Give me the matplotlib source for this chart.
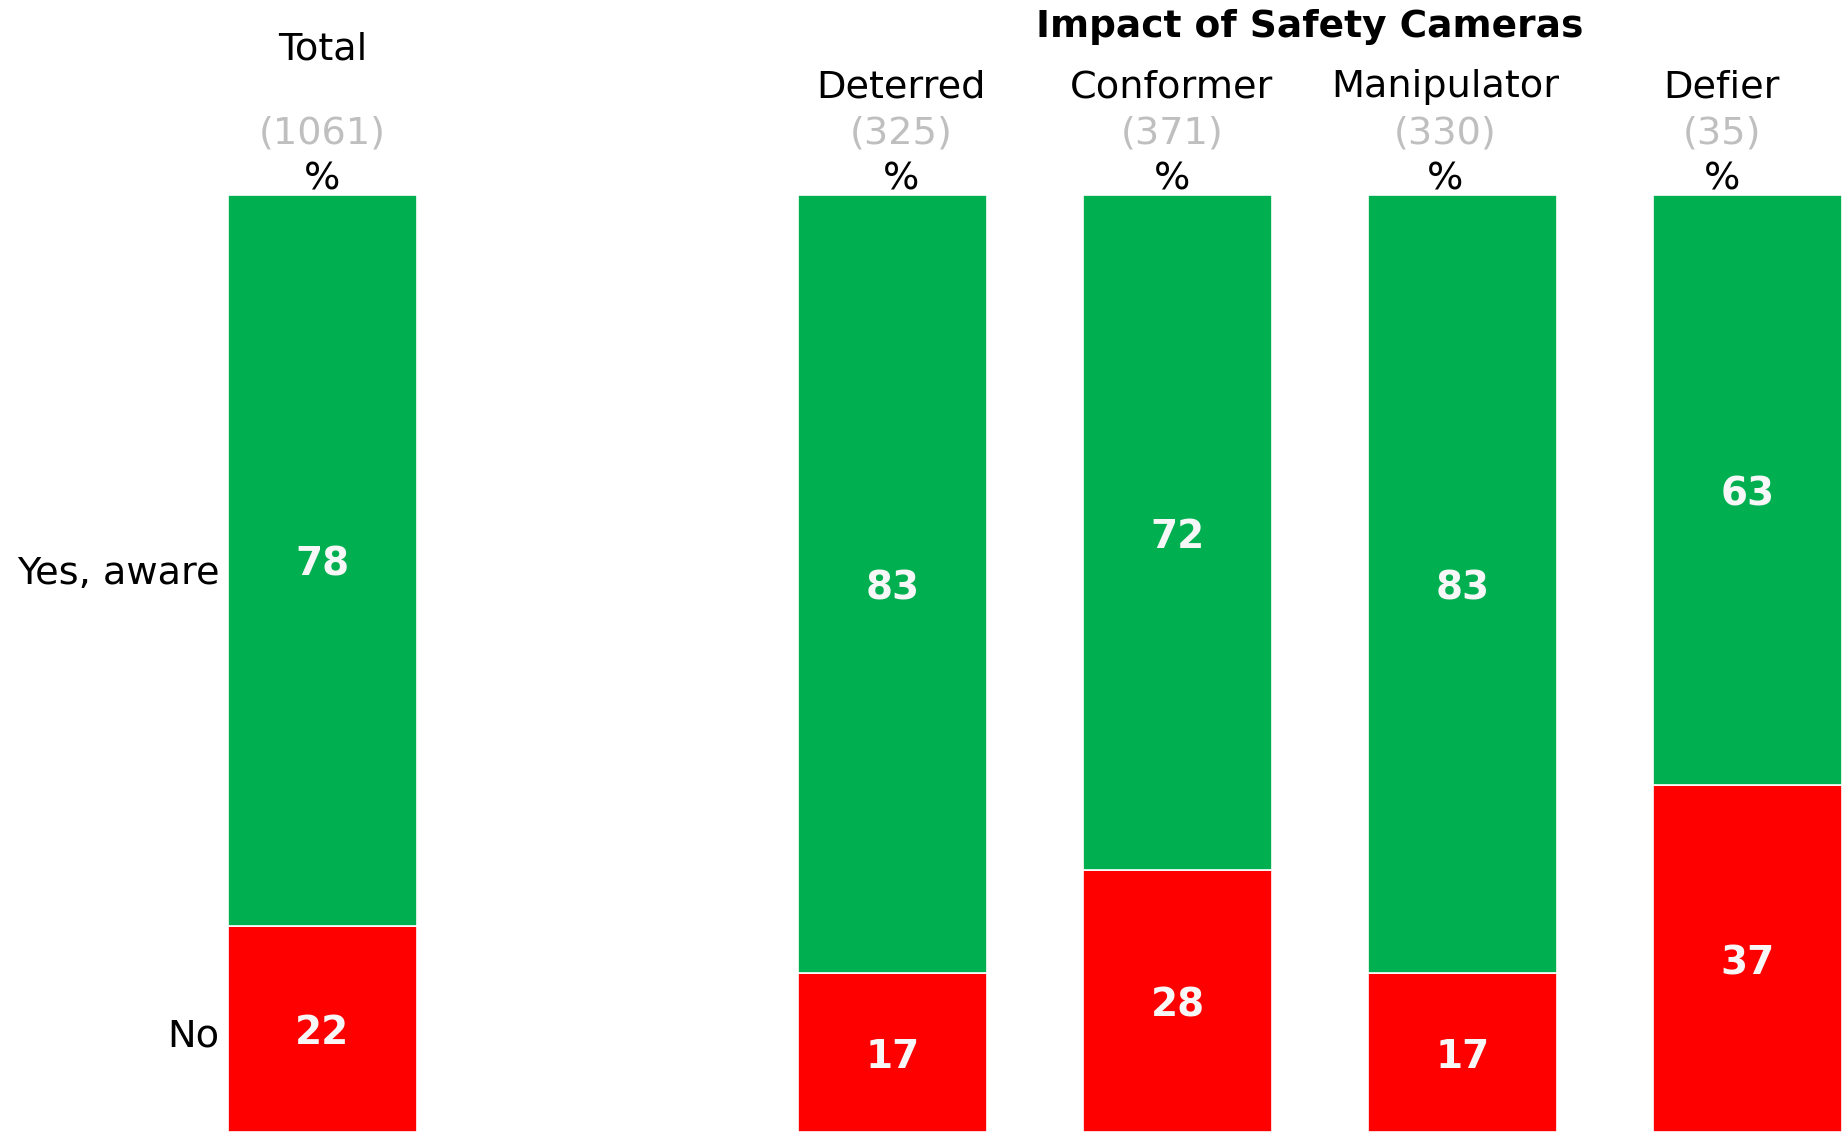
import numpy as np
import matplotlib.pyplot as plt
from matplotlib.transforms import offset_copy

# survey data: awareness of safety cameras by driver segment
groups = ['Total', 'Deterred', 'Conformer', 'Manipulator', 'Defier']
bases = [1061, 325, 371, 330, 35]
yes_aware = [78, 83, 72, 83, 63]
no_aware = [22, 17, 28, 17, 37]
row_labels = ['Yes, aware', 'No']
title = 'Impact of Safety Cameras'

GREEN = '#00b050'
RED = '#ff0000'
GREY = '#bfbfbf'
VALUE_COLOR = '#f7f7f7'

W, H = 1845, 1134
fig = plt.figure(figsize=(W / 100, H / 100), dpi=100)

bar_top, bar_bottom = 195, 1132
ax = fig.add_axes([0, (H - bar_bottom) / H, 1, (bar_bottom - bar_top) / H])

unit = 285.0
x0 = 322.5
ax.set_xlim(-x0 / unit, (W - x0) / unit)
ax.set_ylim(0, 100)
ax.axis('off')

# Total stands apart from the four segments
xpos = np.array([0, 2, 3, 4, 5])
# header columns are spaced a little tighter than the bars
header_x = np.array([0, 2.03, 2.98, 3.94, 4.91])
width = 0.663

no_vals = np.array(no_aware)
yes_vals = np.array(yes_aware)

ax.bar(xpos, no_vals, width, color=RED, edgecolor='white', linewidth=1.2)
ax.bar(xpos, yes_vals, width, bottom=no_vals, color=GREEN,
       edgecolor='white', linewidth=1.2)

val_trans = offset_copy(ax.transData, fig=fig, x=0, y=-4.5, units='dots')
for x, n, y in zip(xpos, no_vals, yes_vals):
    ax.text(x, n / 2, str(n), ha='center', va='center', color=VALUE_COLOR,
            fontsize=28, fontweight='bold', transform=val_trans)
    ax.text(x, n + y / 2, str(y), ha='center', va='center', color=VALUE_COLOR,
            fontsize=28, fontweight='bold', transform=val_trans)

# row labels next to the Total bar
ax.text(-width / 2 - 0.03, no_vals[0] + yes_vals[0] / 2 - 1.5, row_labels[0],
        ha='right', va='center', fontsize=27.5)
ax.text(-width / 2 - 0.03, no_vals[0] / 2 - 0.8, row_labels[1],
        ha='right', va='center', fontsize=27.5)

# column headers above the plotting area
trans = ax.get_xaxis_transform()
span = bar_bottom - bar_top


def yfrac(px):
    return (bar_bottom - px) / span


for i, (x, name, base) in enumerate(zip(header_x, groups, bases)):
    name_y = 50 if i == 0 else 87
    ax.text(x, yfrac(name_y), name, transform=trans, ha='center',
            va='center', fontsize=27.5, clip_on=False)
    ax.text(x, yfrac(133.5), '(%d)' % base, transform=trans, ha='center',
            va='center', fontsize=27.5, color=GREY, clip_on=False)
    ax.text(x, yfrac(179.5), '%', transform=trans, ha='center',
            va='center', fontsize=27.5, clip_on=False)

ax.text(header_x[1:].mean(), yfrac(27), title, transform=trans, ha='center',
        va='center', fontsize=27, fontweight='bold', clip_on=False)

fig.savefig('out.png', dpi=100)
